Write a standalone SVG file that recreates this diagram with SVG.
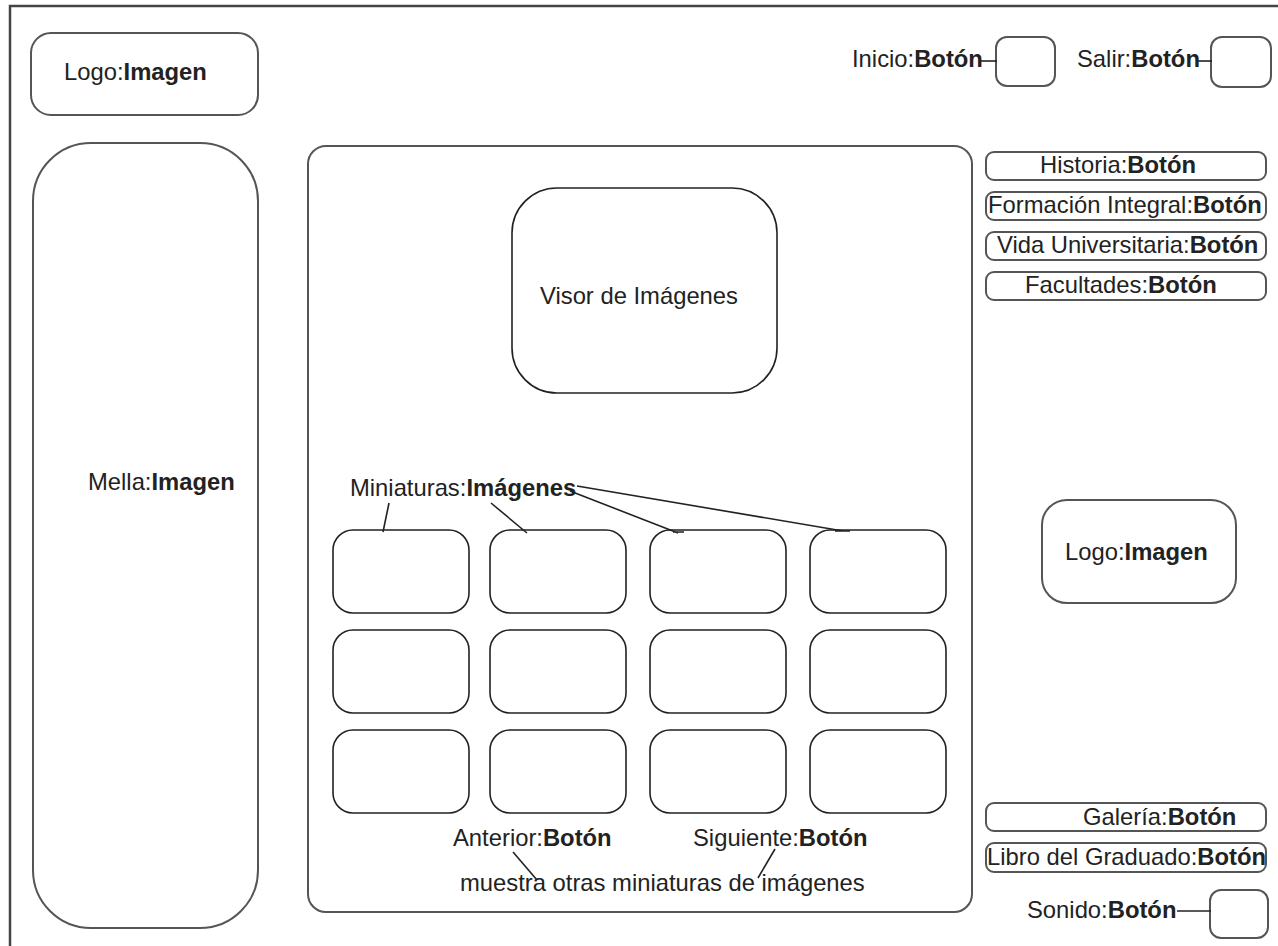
<svg xmlns="http://www.w3.org/2000/svg" width="1278" height="946" viewBox="0 0 1278 946">
<style>
  .frame{fill:none;stroke:#444;stroke-width:2.5}
  .box{fill:#fff;stroke:#555;stroke-width:2}
  .thin{fill:#fff;stroke:#222;stroke-width:1.6}
  .ln{stroke:#222;stroke-width:1.6;fill:none}
  text{font-family:"Liberation Sans",Arial,sans-serif;font-size:23.8px;fill:#222}
  .b{font-weight:bold}
</style>
<rect width="1278" height="946" fill="#fff"/>
<path class="frame" d="M10,946 V6 H1278"/>

<g id="logo-top"><rect class="box" x="31" y="33" width="227" height="82" rx="20"/><text x="64" y="80">Logo:<tspan class="b">Imagen</tspan></text></g>

<g id="inicio"><text x="852" y="67">Inicio:<tspan class="b">Botón</tspan></text><rect class="box" x="996" y="37" width="59" height="49" rx="11"/></g>
<g id="salir"><text x="1077" y="67">Salir:<tspan class="b">Botón</tspan></text><rect class="box" x="1211" y="37" width="60" height="50" rx="11"/></g>

<g id="mella"><rect class="box" x="33" y="143" width="225" height="785" rx="58"/><text x="88" y="490">Mella:<tspan class="b">Imagen</tspan></text></g>

<g id="panel"><rect class="box" x="308" y="146" width="664" height="766" rx="18"/></g>

<g id="visor"><rect class="thin" x="512" y="188" width="265" height="205" rx="45"/><text x="540" y="304">Visor de Imágenes</text></g>

<g id="miniaturas-label"><text x="350" y="496">Miniaturas:<tspan class="b">Imágenes</tspan></text></g>

<g id="thumbs">
  <rect id="t11" class="thin" x="333" y="530" width="136" height="83" rx="20"/>
  <rect id="t12" class="thin" x="490" y="530" width="136" height="83" rx="20"/>
  <rect id="t13" class="thin" x="650" y="530" width="136" height="83" rx="20"/>
  <rect id="t14" class="thin" x="810" y="530" width="136" height="83" rx="20"/>
  <rect id="t21" class="thin" x="333" y="630" width="136" height="83" rx="20"/>
  <rect id="t22" class="thin" x="490" y="630" width="136" height="83" rx="20"/>
  <rect id="t23" class="thin" x="650" y="630" width="136" height="83" rx="20"/>
  <rect id="t24" class="thin" x="810" y="630" width="136" height="83" rx="20"/>
  <rect id="t31" class="thin" x="333" y="730" width="136" height="83" rx="20"/>
  <rect id="t32" class="thin" x="490" y="730" width="136" height="83" rx="20"/>
  <rect id="t33" class="thin" x="650" y="730" width="136" height="83" rx="20"/>
  <rect id="t34" class="thin" x="810" y="730" width="136" height="83" rx="20"/>
</g>

<g id="nav-anterior"><text x="453" y="846">Anterior:<tspan class="b">Botón</tspan></text></g>
<g id="nav-siguiente"><text x="693" y="846">Siguiente:<tspan class="b">Botón</tspan></text></g>
<g id="nav-note"><text x="460" y="891">muestra otras miniaturas de imágenes</text></g>

<g id="historia"><rect class="box" x="986" y="152" width="280" height="28" rx="8"/><text x="1040" y="173">Historia:<tspan class="b">Botón</tspan></text></g>
<g id="formacion"><rect class="box" x="986" y="192" width="280" height="28" rx="8"/><text x="988" y="213">Formación Integral:<tspan class="b">Botón</tspan></text></g>
<g id="vida"><rect class="box" x="986" y="232" width="280" height="28" rx="8"/><text x="997" y="253">Vida Universitaria:<tspan class="b">Botón</tspan></text></g>
<g id="facultades"><rect class="box" x="986" y="272" width="280" height="28" rx="8"/><text x="1025" y="293">Facultades:<tspan class="b">Botón</tspan></text></g>

<g id="logo-right"><rect class="box" x="1042" y="500" width="194" height="103" rx="25"/><text x="1065" y="560">Logo:<tspan class="b">Imagen</tspan></text></g>

<g id="galeria"><rect class="box" x="986" y="803" width="280" height="28" rx="8"/><text x="1083" y="825">Galería:<tspan class="b">Botón</tspan></text></g>
<g id="libro"><rect class="box" x="986" y="843" width="280" height="29" rx="8"/><text x="987" y="865">Libro del Graduado:<tspan class="b">Botón</tspan></text></g>
<g id="sonido"><text x="1027" y="918">Sonido:<tspan class="b">Botón</tspan></text><rect class="box" x="1210" y="890" width="58" height="48" rx="11"/></g>

<g id="connectors">
  <line class="ln" x1="980" y1="61" x2="997" y2="61"/>
  <line class="ln" x1="1197" y1="61" x2="1212" y2="61"/>
  <line class="ln" x1="1177" y1="911" x2="1211" y2="911"/>
  <line class="ln" x1="389" y1="503" x2="383" y2="532"/>
  <line class="ln" x1="491" y1="503" x2="527" y2="533"/>
  <path class="ln" d="M570,491 L678,533 M673,532 H684"/>
  <path class="ln" d="M577,486 L843,531 M835,531 H850"/>
  <line class="ln" x1="513" y1="852" x2="537" y2="880"/>
  <line class="ln" x1="775" y1="849" x2="758" y2="878"/>
</g>
</svg>
